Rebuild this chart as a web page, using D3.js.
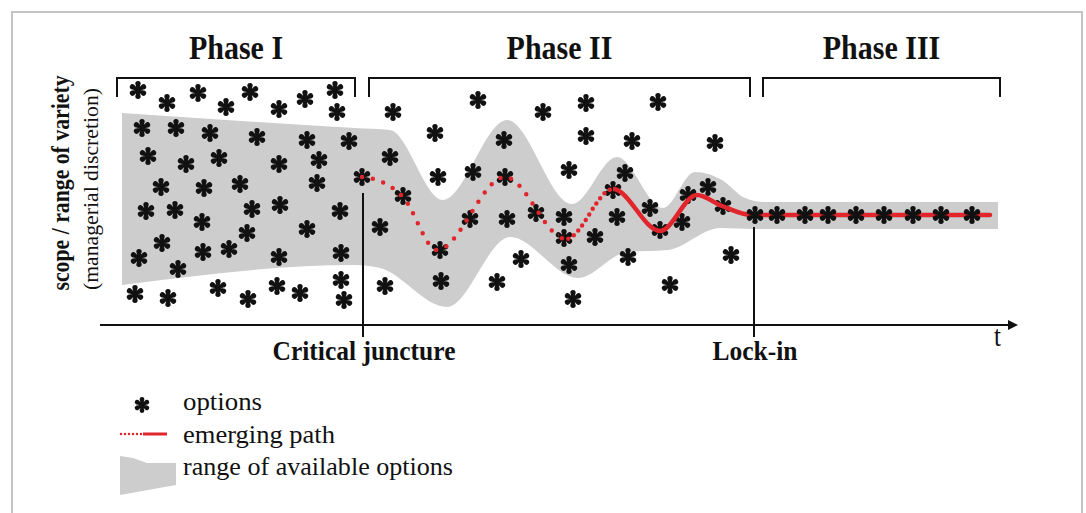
<!DOCTYPE html>
<html>
<head>
<meta charset="utf-8">
<script src="https://cdn.jsdelivr.net/npm/d3@7"></script>
<style>
  body { margin: 0; background: #ffffff; }
  text { font-family: 'Liberation Serif', 'Times New Roman', serif; fill: #111111; }
</style>
</head>
<body>
<div id="chart"></div>
<script>
// Phases along the time axis (t units)
var phaseNames = ['Phase I', 'Phase II', 'Phase III'];
var phaseStart = [1.7, 26.9, 66.3];
var phaseEnd = [25.5, 65.0, 90.0];

// Events marked on the time axis
var eventNames = ['Critical juncture', 'Lock-in'];
var eventTime = [26.3, 65.4];
var eventTop = [13.2, 9.8];

// Options (asterisks) as [t, scope]
var optionsPhase1 = [
  [3.8, 23.5], [6.7, 22.2], [9.8, 23.2], [12.6, 21.8], [15.0, 23.3], [17.9, 21.6], [20.5, 22.6], [23.5, 23.5], [23.7, 21.3],
  [4.2, 19.7], [7.6, 19.7], [11.0, 19.2], [15.7, 18.8], [20.7, 18.5], [24.9, 18.4],
  [4.8, 16.9], [8.6, 16.1], [11.9, 16.7], [17.9, 16.1], [21.9, 16.5],
  [6.1, 13.8], [10.4, 13.7], [14.0, 14.1], [21.7, 14.2], [26.2, 14.8],
  [4.6, 11.4], [7.5, 11.5], [10.2, 10.3], [15.2, 11.6], [18.0, 12.0], [24.0, 11.4],
  [20.7, 9.6], [14.7, 9.2], [6.2, 8.2], [10.3, 7.3], [12.9, 7.6], [17.9, 6.8], [24.1, 7.2],
  [3.9, 6.7], [7.8, 5.6], [24.1, 4.5],
  [3.5, 3.1], [6.8, 2.7], [11.8, 3.7], [14.8, 2.6], [17.7, 3.9], [20.0, 3.2], [24.4, 2.5]
];
var optionsPhase2 = [
  [29.3, 21.3], [37.8, 22.5], [44.3, 21.3], [48.6, 22.2], [55.8, 22.3],
  [33.5, 19.2], [40.4, 18.5], [48.6, 18.9], [53.2, 18.4], [61.5, 18.2],
  [29.0, 16.8], [37.3, 15.3], [33.8, 14.8], [46.9, 15.5], [52.5, 15.2],
  [30.3, 12.9], [40.5, 14.8], [51.3, 13.5], [60.8, 13.8], [58.8, 13.0], [55.0, 11.7], [62.3, 11.9],
  [28.0, 9.8], [37.0, 10.6], [40.7, 10.6], [43.6, 11.2], [46.4, 10.8], [51.7, 10.8], [58.2, 10.3],
  [34.0, 7.5], [46.4, 8.7], [49.5, 8.8], [56.0, 9.5],
  [42.1, 6.6], [46.9, 6.0], [52.8, 6.8], [63.1, 7.0],
  [28.5, 3.9], [34.1, 4.4], [39.7, 4.3], [57.0, 4.0], [47.3, 2.6]
];
var optionsPhase3 = [
  [65.5, 11.0], [67.7, 11.0], [70.5, 11.0], [72.8, 11.0], [75.6, 11.0],
  [78.4, 11.0], [81.3, 11.0], [84.1, 11.0], [87.2, 11.0]
];

// Emerging path
var pathT = [26.2, 28.0, 30.3, 33.7, 40.5, 46.6, 51.3, 56.0, 59.7, 62.2, 65.2, 89.0];
var pathV = [14.8, 14.4, 12.8, 7.5, 14.8, 8.6, 13.6, 9.4, 13.0, 11.9, 11.0, 11.0];

// Range of available options (upper and lower edge)
var bandTopT = [2.2, 25.5, 29.0, 34.3, 40.7, 47.2, 51.7, 56.3, 59.5, 62.2, 64.5, 66.5, 89.8];
var bandTopV = [21.2, 19.7, 19.5, 12.5, 20.5, 12.1, 16.8, 11.7, 15.3, 14.5, 12.7, 12.3, 12.3];
var bandBottomT = [2.2, 25.5, 28.0, 34.7, 41.0, 47.8, 52.7, 56.8, 62.0, 65.5, 89.8];
var bandBottomV = [4.0, 6.0, 5.7, 1.8, 8.8, 4.7, 7.3, 7.5, 9.7, 9.6, 9.6];

var legendLabels = ['options', 'emerging path', 'range of available options'];

// Canvas
var outerWidth = 1086;
var outerHeight = 513;
var red = '#e0262c';
var bandColor = '#cdcdcd';

var svg = d3.select('#chart').append('svg')
  .attr('width', outerWidth)
  .attr('height', outerHeight);

// Scales: time t and scope
var x = d3.scaleLinear().domain([0, 90]).range([100, 1000]);
var y = d3.scaleLinear().domain([0, 22]).range([325, 105]);

// Frame
svg.append('rect')
  .attr('x', 12).attr('y', 12)
  .attr('width', 1070).attr('height', 520)
  .attr('fill', 'none')
  .attr('stroke', '#c4c4c4')
  .attr('stroke-width', 2);

// Asterisk glyph as six teardrop arms
function asterisk(r) {
  var d = '';
  var w = r * 0.1, rc = r * 0.3, c = r - rc;
  for (var k = 0; k < 6; k++) {
    var a = (90 + k * 60) * Math.PI / 180;
    var ca = Math.cos(a), sa = Math.sin(a);
    var p = function(px, py) {
      return (px * ca - py * sa).toFixed(2) + ',' + (px * sa + py * ca).toFixed(2);
    };
    d += 'M' + p(0, -w) + 'L' + p(c, -rc) + 'A' + rc + ',' + rc + ' 0 0 1 ' + p(c, rc) + 'L' + p(0, w) + 'Z';
  }
  return d;
}

// Band of available options
var zip = function(a, b) { return a.map(function(v, i) { return [v, b[i]]; }); };
var edge = d3.line()
  .x(function(d) { return x(d[0]); })
  .y(function(d) { return y(d[1]); })
  .curve(d3.curveMonotoneX);
var topPts = zip(bandTopT, bandTopV);
var bottomPts = zip(bandBottomT, bandBottomV).reverse();
svg.append('path')
  .attr('d', edge(topPts) + 'L' + edge(bottomPts).slice(1) + 'Z')
  .attr('fill', bandColor);

// Brackets and phase headings
var phases = svg.selectAll('.phase')
  .data(phaseNames)
  .enter().append('g')
  .attr('class', 'phase');

phases.append('path')
  .attr('d', function(d, i) {
    var x0 = x(phaseStart[i]), x1 = x(phaseEnd[i]);
    return 'M' + x0 + ',97V78H' + x1 + 'V97';
  })
  .attr('fill', 'none')
  .attr('stroke', '#111')
  .attr('stroke-width', 2);

phases.append('text')
  .attr('transform', function(d, i) {
    return 'translate(' + ((x(phaseStart[i]) + x(phaseEnd[i])) / 2) + ',59) scale(1,1.15)';
  })
  .attr('text-anchor', 'middle')
  .style('font-size', '30px')
  .style('font-weight', 'bold')
  .text(function(d) { return d; });

// Asterisks for phases I and II
svg.append('g').selectAll('path')
  .data(optionsPhase1.concat(optionsPhase2))
  .enter().append('path')
  .attr('transform', function(d) { return 'translate(' + x(d[0]) + ',' + y(d[1]) + ')'; })
  .attr('d', asterisk(9))
  .attr('fill', '#111');

// Emerging path: dotted, densely dotted, then solid
var pathLine = d3.line()
  .x(function(d) { return x(d[0]); })
  .y(function(d) { return y(d[1]); })
  .curve(d3.curveMonotoneX);
var pathPts = zip(pathT, pathV);
var cuts = [[0, 45.8], [45.8, 51.3], [51.3, 95]];
var dashes = ['0 11', '0 6.5', null];
var defs = svg.append('defs');
cuts.forEach(function(c, i) {
  defs.append('clipPath').attr('id', 'cut' + i)
    .append('rect')
    .attr('x', x(c[0])).attr('y', 0)
    .attr('width', x(c[1]) - x(c[0])).attr('height', outerHeight);
  svg.append('path')
    .attr('d', pathLine(pathPts))
    .attr('clip-path', 'url(#cut' + i + ')')
    .attr('fill', 'none')
    .attr('stroke', red)
    .attr('stroke-width', 4.5)
    .attr('stroke-linecap', 'round')
    .attr('stroke-dasharray', dashes[i]);
});

// Asterisks for phase III sit on the path
svg.append('g').selectAll('path')
  .data(optionsPhase3)
  .enter().append('path')
  .attr('transform', function(d) { return 'translate(' + x(d[0]) + ',' + y(d[1]) + ')'; })
  .attr('d', asterisk(9))
  .attr('fill', '#111');

// Time axis with arrow
svg.append('line')
  .attr('x1', x(0)).attr('x2', x(90.8))
  .attr('y1', y(0)).attr('y2', y(0))
  .attr('stroke', '#111').attr('stroke-width', 2);
svg.append('path')
  .attr('d', 'M' + x(90.8) + ',' + (y(0) - 5) + 'L' + x(91.8) + ',' + y(0) + 'L' + x(90.8) + ',' + (y(0) + 5) + 'Z')
  .attr('fill', '#111');
svg.append('text')
  .attr('transform', 'translate(' + x(89.4) + ',346) scale(1,1.15)')
  .style('font-size', '25px')
  .text('t');

// Event markers
var events = svg.selectAll('.event')
  .data(eventNames)
  .enter().append('g')
  .attr('class', 'event');
events.append('line')
  .attr('x1', function(d, i) { return x(eventTime[i]); })
  .attr('x2', function(d, i) { return x(eventTime[i]); })
  .attr('y1', function(d, i) { return y(eventTop[i]); })
  .attr('y2', y(-1.2))
  .attr('stroke', '#111').attr('stroke-width', 2);
events.append('text')
  .attr('transform', function(d, i) { return 'translate(' + (x(eventTime[i]) + 1) + ',360) scale(1,1.1)'; })
  .attr('text-anchor', 'middle')
  .style('font-size', '25.5px')
  .style('font-weight', 'bold')
  .text(function(d) { return d; });

// Vertical axis label
svg.append('text')
  .attr('transform', 'translate(69,183) rotate(-90)')
  .attr('text-anchor', 'middle')
  .style('font-size', '25px')
  .style('font-weight', 'bold')
  .attr('textLength', 215)
  .attr('lengthAdjust', 'spacingAndGlyphs')
  .text('scope / range of variety');
svg.append('text')
  .attr('transform', 'translate(98,189) rotate(-90)')
  .attr('text-anchor', 'middle')
  .style('font-size', '20px')
  .attr('textLength', 202)
  .attr('lengthAdjust', 'spacingAndGlyphs')
  .text('(managerial discretion)');

// Legend
var legend = svg.append('g').attr('class', 'legend');
legend.append('path')
  .attr('transform', 'translate(142,405)')
  .attr('d', asterisk(8))
  .attr('fill', '#111');
legend.append('line')
  .attr('x1', 121).attr('x2', 143).attr('y1', 434).attr('y2', 434)
  .attr('stroke', red).attr('stroke-width', 2.5)
  .attr('stroke-linecap', 'round').attr('stroke-dasharray', '0 4');
legend.append('line')
  .attr('x1', 143).attr('x2', 167).attr('y1', 434).attr('y2', 434)
  .attr('stroke', red).attr('stroke-width', 3);
legend.append('path')
  .attr('d', 'M120,456L133,458L147,463L176,463L176,485L120,495Z')
  .attr('fill', bandColor);
var legendWidths = [79, 152, 270];
legend.selectAll('.legend-text')
  .data(legendLabels)
  .enter().append('text')
  .attr('class', 'legend-text')
  .attr('x', 183)
  .attr('y', function(d, i) { return 410 + i * 32.5; })
  .style('font-size', '25px')
  .attr('textLength', function(d, i) { return legendWidths[i]; })
  .attr('lengthAdjust', 'spacingAndGlyphs')
  .text(function(d) { return d; });
</script>
</body>
</html>
